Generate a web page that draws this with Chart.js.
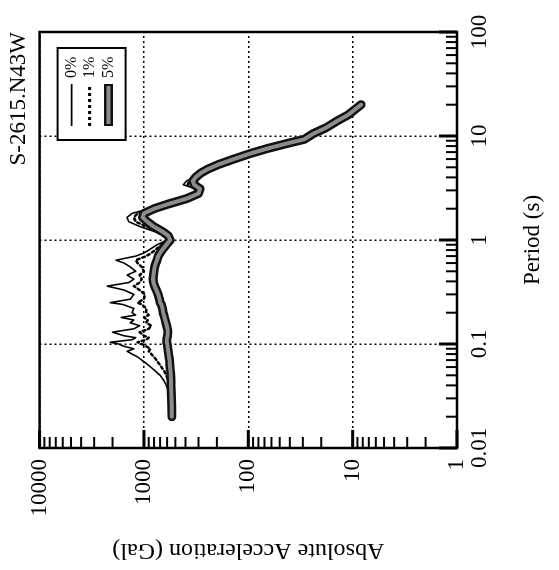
<!DOCTYPE html>
<html>
<head>
<meta charset="utf-8">
<script src="https://cdn.jsdelivr.net/npm/chart.js@4.4.1/dist/chart.umd.min.js"></script>
<style>
  html, body { margin: 0; padding: 0; background: #fff; overflow: hidden; }
  /* the figure was scanned sideways: draw it upright, then turn it 90 degrees */
  #wrap {
    position: absolute; left: 0; top: 0; width: 570px; height: 559px;
    transform-origin: 0 0; transform: translate(0, 570px) rotate(-90deg);
    background: #fff;
  }
</style>
</head>
<body>
<div id="wrap"><canvas id="spectrumChart" width="570" height="559"></canvas></div>
<script>
// Period (s)
const periods = [0.02, 0.025, 0.03, 0.035, 0.04, 0.045, 0.05, 0.055, 0.06, 0.065,
  0.07, 0.075, 0.08, 0.085, 0.09, 0.095, 0.1, 0.104, 0.11, 0.115,
  0.12, 0.13, 0.14, 0.15, 0.16, 0.17, 0.18, 0.19, 0.2, 0.22,
  0.24, 0.25, 0.27, 0.3, 0.33, 0.36, 0.39, 0.42, 0.46, 0.5,
  0.55, 0.6, 0.64, 0.7, 0.75, 0.8, 0.9, 1.0, 1.1, 1.2,
  1.35, 1.5, 1.65, 1.8, 2.0, 2.2, 2.5, 2.8, 3.1, 3.4,
  3.7, 4.0, 4.4, 4.8, 5.3, 6.0, 6.8, 7.6, 8.5, 9.3,
  10.5, 12, 14, 16, 18, 20];

// Absolute acceleration (Gal) for 0 %, 1 % and 5 % damping
const acc0 = [545, 550, 560, 580, 610, 650, 700, 780, 860, 950,
  1050, 1150, 1300, 1450, 1250, 1550, 1750, 2100, 1300, 1200,
  1550, 2000, 1250, 1100, 1350, 1250, 1650, 1200, 1300, 1250,
  1600, 2100, 1350, 1250, 1550, 2250, 1400, 1250, 1450, 1200,
  1350, 1550, 1850, 1200, 1000, 900, 750, 600, 640, 780,
  1100, 1400, 1450, 1300, 900, 620, 400, 300, 320, 420,
  390, 330, 290, 250, 200, 140, 95, 65, 42, 29,
  24, 18, 14, 11, 9.5, 8.3];
const acc1 = [542, 545, 550, 560, 575, 590, 610, 640, 680, 720,
  760, 800, 850, 900, 870, 950, 1050, 1150, 950, 900,
  1000, 1100, 900, 850, 950, 920, 1000, 900, 950, 950,
  1050, 1150, 1000, 980, 1100, 1250, 1100, 1050, 1100, 1000,
  1050, 1150, 1200, 950, 850, 780, 680, 580, 610, 720,
  950, 1200, 1250, 1150, 850, 610, 395, 300, 310, 380,
  370, 325, 288, 248, 198, 139, 95, 65, 42, 29,
  24, 18, 14, 11, 9.5, 8.3];
const acc5 = [540, 542, 545, 548, 550, 552, 555, 558, 562, 566,
  570, 575, 580, 585, 590, 595, 600, 605, 605, 600,
  595, 590, 595, 605, 615, 625, 635, 645, 655, 665,
  680, 700, 710, 730, 760, 790, 810, 820, 810, 800,
  790, 770, 750, 730, 700, 670, 610, 560, 585, 660,
  810, 930, 1030, 1000, 800, 600, 390, 300, 290, 330,
  340, 320, 285, 245, 195, 138, 95, 65, 42, 29,
  24, 18, 14, 11, 9.5, 8.3];

const seriesNames = ["0%", "1%", "5%"];
const periodTicks = [0.01, 0.1, 1, 10, 100];
const accTicks = [1, 10, 100, 1000, 10000];
const minorSteps = [2, 3, 4, 5, 6, 7, 8, 9];

const serif = "'Liberation Serif', 'Times New Roman', serif";
Chart.defaults.font.family = serif;
Chart.defaults.color = "#000";

const toPoints = (acc) => periods.map((p, i) => ({ x: p, y: acc[i] }));

const stroke = (ctx, x1, y1, x2, y2, w) => {
  ctx.lineWidth = w;
  ctx.beginPath();
  ctx.moveTo(x1, y1);
  ctx.lineTo(x2, y2);
  ctx.stroke();
};

// box, inward tick marks and the small legend
const framePlugin = {
  id: "frame",
  afterDatasetsDraw(chart) {
    const { ctx, chartArea: a, scales } = chart;
    const xs = scales.x, ys = scales.y;
    ctx.save();
    ctx.strokeStyle = "#000";
    ctx.setLineDash([]);

    accTicks.forEach((d, i) => {
      const p = ys.getPixelForValue(d);
      stroke(ctx, a.left, p, a.left + 18, p, 3);
      if (i < accTicks.length - 1)
        minorSteps.forEach((m) => {
          const q = ys.getPixelForValue(d * m);
          stroke(ctx, a.left, q, a.left + 11, q, 2);
        });
    });
    periodTicks.forEach((d, i) => {
      const p = xs.getPixelForValue(d);
      stroke(ctx, p, a.bottom, p, a.bottom - 18, 3);
      if (i < periodTicks.length - 1)
        minorSteps.forEach((m) => {
          const q = xs.getPixelForValue(d * m);
          stroke(ctx, q, a.bottom, q, a.bottom - 11, 2);
        });
    });

    ctx.lineWidth = 2.5;
    ctx.strokeRect(a.left, a.top, a.right - a.left, a.bottom - a.top);

    // legend
    const L = { x: a.right - 108, y: a.top + 18, w: 92, h: 68 };
    ctx.fillStyle = "#fff";
    ctx.fillRect(L.x, L.y, L.w, L.h);
    ctx.lineWidth = 2;
    ctx.strokeRect(L.x, L.y, L.w, L.h);
    const rows = [14, 32, 51];
    ctx.font = "16px " + serif;
    ctx.textBaseline = "middle";
    ctx.fillStyle = "#000";
    seriesNames.forEach((name, i) => {
      const ry = L.y + rows[i];
      const x1 = L.x + 14, x2 = L.x + 56;
      if (i === 0) stroke(ctx, x1, ry, x2, ry, 1.6);
      if (i === 1) {
        ctx.setLineDash([3, 3]);
        stroke(ctx, x1, ry, x2, ry, 3);
        ctx.setLineDash([]);
      }
      if (i === 2) {
        ctx.strokeStyle = "#111";
        stroke(ctx, x1, ry, x2, ry, 9);
        ctx.strokeStyle = "#8c8c8c";
        stroke(ctx, x1 + 2, ry, x2 - 2, ry, 4);
        ctx.strokeStyle = "#000";
      }
      ctx.fillText(name, L.x + 62, ry);
    });
    ctx.restore();
  },
};

const gridLines = {
  color: "#000",
  lineWidth: 1.5,
  drawTicks: false,
};

const ctx = document.getElementById("spectrumChart").getContext("2d");
const spectrumChart = new Chart(ctx, {
  type: "line",
  plugins: [framePlugin],
  data: {
    datasets: [
      { label: seriesNames[2], data: toPoints(acc5), borderColor: "#8c8c8c", borderWidth: 4 },
      { label: seriesNames[2], data: toPoints(acc5), borderColor: "#111", borderWidth: 9 },
      { label: seriesNames[1], data: toPoints(acc1), borderColor: "#000", borderWidth: 2.5, borderDash: [2.5, 3] },
      { label: seriesNames[0], data: toPoints(acc0), borderColor: "#000", borderWidth: 1.6 },
    ],
  },
  options: {
    responsive: false,
    animation: false,
    events: [],
    layout: { padding: { right: 32 } },
    elements: {
      point: { radius: 0 },
      line: { tension: 0, borderJoinStyle: "round", borderCapStyle: "round" },
    },
    plugins: {
      legend: { display: false },
      tooltip: { enabled: false },
      title: {
        display: true,
        text: "S-2615.N43W",
        align: "end",
        fullSize: false,
        color: "#000",
        font: { family: serif, size: 23, weight: "normal" },
        padding: { top: 5, bottom: 7 },
      },
    },
    scales: {
      x: {
        type: "logarithmic",
        position: "bottom",
        min: 0.01,
        max: 100,
        afterBuildTicks: (s) => { s.ticks = periodTicks.map((v) => ({ value: v })); },
        afterFit: (s) => { s.height = 102; },
        grid: gridLines,
        border: { display: false, dash: [2, 3] },
        ticks: {
          autoSkip: false,
          maxRotation: 0,
          padding: 9,
          font: { size: 23 },
          callback: (v) => String(v),
        },
        title: {
          display: true,
          text: "Period (s)",
          font: { size: 23 },
          padding: { top: 4, bottom: 12 },
        },
      },
      y: {
        type: "logarithmic",
        position: "left",
        min: 1,
        max: 10000,
        afterBuildTicks: (s) => { s.ticks = accTicks.map((v) => ({ value: v })); },
        afterFit: (s) => { s.width = 122; },
        grid: gridLines,
        border: { display: false, dash: [2, 3] },
        ticks: {
          autoSkip: false,
          padding: 11,
          font: { size: 23 },
          callback: (v) => String(v),
        },
        title: {
          display: true,
          text: "Absolute Acceleration (Gal)",
          font: { size: 24 },
          padding: { top: 5, bottom: 4 },
        },
      },
    },
  },
});
</script>
</body>
</html>
